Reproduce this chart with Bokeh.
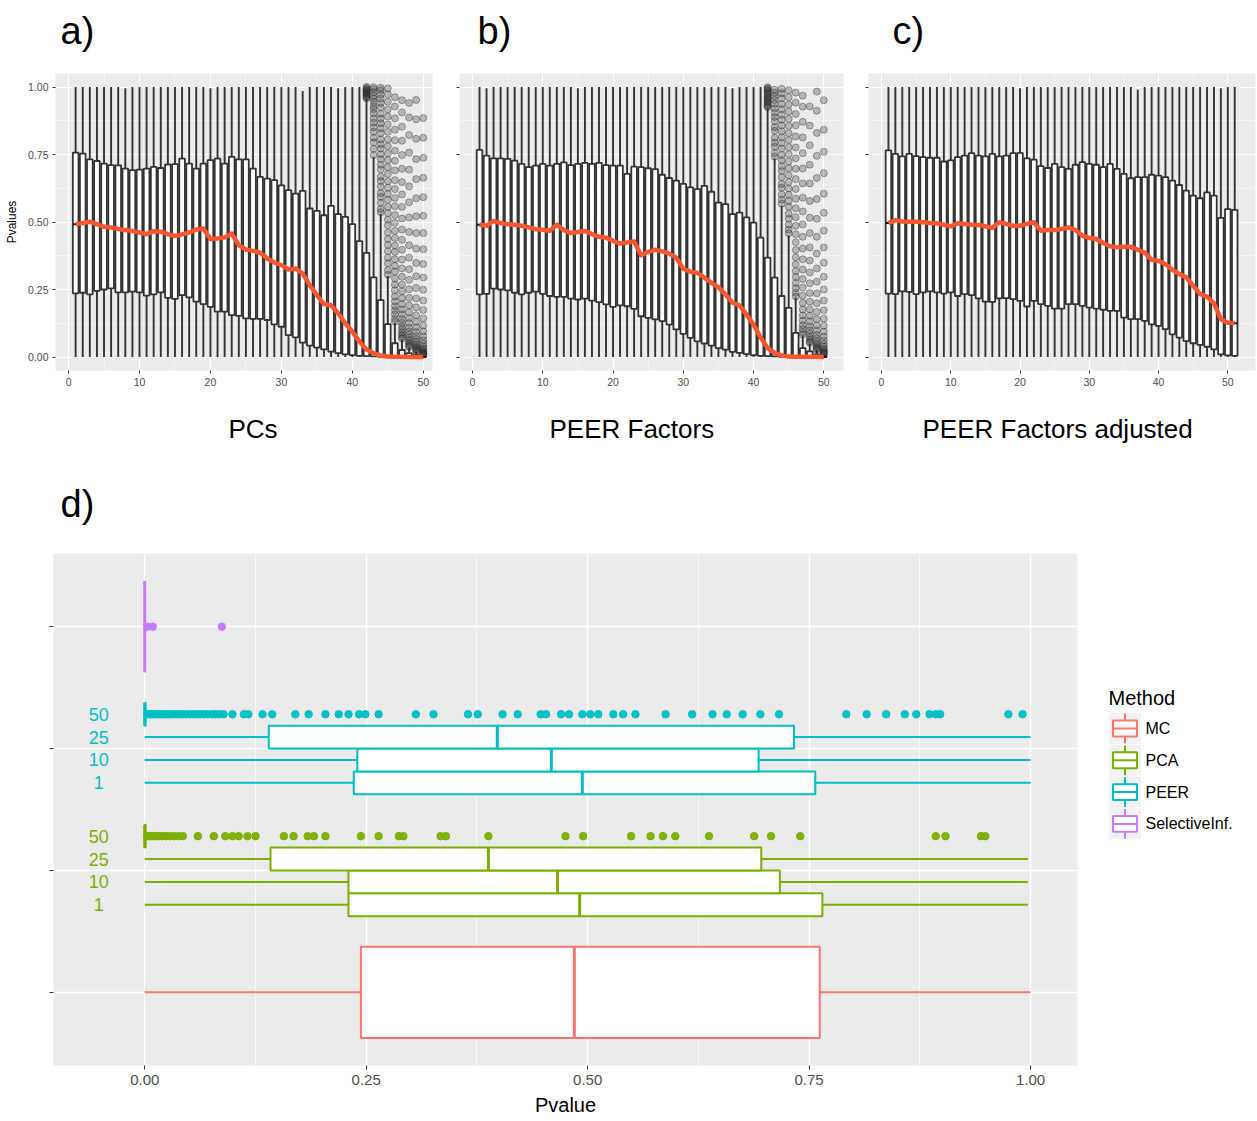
from bokeh.plotting import figure
from bokeh.layouts import row, column
from bokeh.models import Range1d, FixedTicker, NumeralTickFormatter, CustomJSTickFormatter
from bokeh.embed import file_html
from bokeh.resources import INLINE
from bokeh.core.properties import value

# ---------------------------------------------------------------------------
# Panels a-c: p-value distributions per number of hidden factors
# ---------------------------------------------------------------------------
pcs_q1 = [0.236, 0.238, 0.232, 0.245, 0.250, 0.254, 0.239, 0.239, 0.242, 0.239,
          0.227, 0.232, 0.239, 0.219, 0.215, 0.229, 0.221, 0.205, 0.196, 0.186,
          0.168, 0.168, 0.155, 0.152, 0.143, 0.141, 0.141, 0.137, 0.121, 0.112,
          0.081, 0.073, 0.053, 0.042, 0.035, 0.028, 0.020, 0.014, 0.010, 0.007,
          0.004, 0.003, 0.002, 0.001, 0.001, 0.000, 0.000, 0.000, 0.000, 0.000]
pcs_med = [0.492, 0.496, 0.501, 0.492, 0.482, 0.480, 0.474, 0.470, 0.467, 0.461,
           0.455, 0.466, 0.464, 0.455, 0.448, 0.454, 0.461, 0.472, 0.476, 0.437,
           0.439, 0.443, 0.457, 0.414, 0.398, 0.393, 0.386, 0.365, 0.350, 0.340,
           0.324, 0.328, 0.309, 0.266, 0.229, 0.196, 0.192, 0.162, 0.125, 0.094,
           0.057, 0.028, 0.014, 0.005, 0.002, 0.001, 0.001, 0.000, 0.000, 0.000]
pcs_q3 = [0.757, 0.753, 0.732, 0.726, 0.716, 0.711, 0.710, 0.698, 0.692, 0.694,
          0.698, 0.704, 0.700, 0.713, 0.714, 0.735, 0.716, 0.698, 0.716, 0.729,
          0.735, 0.716, 0.741, 0.732, 0.732, 0.698, 0.667, 0.661, 0.655, 0.636,
          0.618, 0.605, 0.615, 0.550, 0.541, 0.525, 0.560, 0.529, 0.519, 0.492,
          0.429, 0.386, 0.295, 0.211, 0.122, 0.051, 0.026, 0.014, 0.008, 0.003]
pcs_hi = [1.000, 1.000, 1.000, 1.000, 1.000, 1.000, 1.000, 0.995, 1.000, 1.000,
          1.000, 1.000, 1.000, 1.000, 1.000, 1.000, 1.000, 1.000, 1.000, 0.995,
          1.000, 1.000, 1.000, 1.000, 1.000, 1.000, 1.000, 1.000, 1.000, 1.000,
          1.000, 1.000, 0.985, 1.000, 1.000, 1.000, 1.000, 0.995, 1.000, 1.000,
          1.000, 0.955, 0.740, 0.530, 0.300, 0.126, 0.065, 0.035, 0.020, 0.008]
pcs_out = {
    42: [0.958, 0.962, 0.966, 0.971, 0.975, 0.979, 0.984, 0.988, 0.991, 0.996, 1.000],
    43: [0.748, 0.771, 0.795, 0.812, 0.834, 0.851, 0.868, 0.884, 0.902, 0.918,
         0.929, 0.944, 0.957, 0.968, 0.981, 0.992, 0.999],
    44: [0.536, 0.548, 0.571, 0.593, 0.607, 0.631, 0.652, 0.668, 0.694, 0.712,
         0.733, 0.751, 0.772, 0.788, 0.806, 0.829, 0.847, 0.866, 0.883, 0.901,
         0.924, 0.941, 0.957, 0.972, 0.988, 0.997],
    45: [0.305, 0.322, 0.347, 0.368, 0.392, 0.415, 0.437, 0.461, 0.488, 0.509,
         0.533, 0.556, 0.582, 0.604, 0.627, 0.651, 0.678, 0.703, 0.729, 0.754,
         0.781, 0.806, 0.834, 0.862, 0.891, 0.917, 0.945, 0.973, 0.995],
    46: [0.131, 0.142, 0.158, 0.173, 0.188, 0.206, 0.224, 0.247, 0.268, 0.291,
         0.316, 0.338, 0.362, 0.389, 0.413, 0.441, 0.468, 0.497, 0.526, 0.558,
         0.589, 0.622, 0.655, 0.691, 0.727, 0.764, 0.803, 0.842, 0.884, 0.928, 0.962],
    47: [0.068, 0.074, 0.083, 0.091, 0.102, 0.113, 0.127, 0.141, 0.158, 0.176,
         0.196, 0.218, 0.243, 0.268, 0.297, 0.328, 0.361, 0.397, 0.434, 0.472,
         0.513, 0.556, 0.602, 0.648, 0.697, 0.748, 0.801, 0.853, 0.906, 0.951],
    48: [0.037, 0.042, 0.048, 0.055, 0.063, 0.072, 0.083, 0.095, 0.109, 0.126,
         0.144, 0.166, 0.191, 0.219, 0.251, 0.286, 0.325, 0.368, 0.414, 0.463,
         0.517, 0.573, 0.632, 0.694, 0.757, 0.822, 0.887, 0.941],
    49: [0.021, 0.025, 0.029, 0.034, 0.040, 0.047, 0.056, 0.066, 0.078, 0.093,
         0.110, 0.131, 0.155, 0.184, 0.217, 0.256, 0.299, 0.348, 0.401, 0.459,
         0.521, 0.588, 0.659, 0.733, 0.808, 0.881, 0.952],
    50: [0.009, 0.011, 0.014, 0.017, 0.021, 0.026, 0.032, 0.040, 0.050, 0.062,
         0.077, 0.095, 0.117, 0.143, 0.174, 0.209, 0.249, 0.294, 0.344, 0.399,
         0.459, 0.523, 0.592, 0.664, 0.738, 0.812, 0.885],
}

peer_q1 = [0.232, 0.234, 0.253, 0.250, 0.247, 0.238, 0.232, 0.238, 0.242, 0.234,
           0.226, 0.223, 0.223, 0.216, 0.213, 0.216, 0.209, 0.203, 0.195, 0.186,
           0.191, 0.188, 0.178, 0.151, 0.145, 0.139, 0.133, 0.120, 0.102, 0.086,
           0.071, 0.058, 0.050, 0.042, 0.033, 0.027, 0.019, 0.015, 0.011, 0.007,
           0.004, 0.003, 0.002, 0.001, 0.001, 0.000, 0.000, 0.000, 0.000, 0.000]
peer_med = [0.490, 0.486, 0.504, 0.496, 0.492, 0.490, 0.486, 0.480, 0.473, 0.471,
            0.467, 0.490, 0.470, 0.459, 0.463, 0.467, 0.455, 0.445, 0.442, 0.430,
            0.420, 0.424, 0.428, 0.377, 0.389, 0.397, 0.391, 0.383, 0.368, 0.327,
            0.316, 0.312, 0.294, 0.275, 0.259, 0.232, 0.201, 0.191, 0.157, 0.120,
            0.073, 0.033, 0.015, 0.006, 0.002, 0.001, 0.001, 0.001, 0.001, 0.000]
peer_q3 = [0.767, 0.746, 0.736, 0.736, 0.734, 0.727, 0.715, 0.703, 0.709, 0.715,
           0.709, 0.715, 0.721, 0.711, 0.715, 0.719, 0.715, 0.719, 0.711, 0.709,
           0.709, 0.678, 0.705, 0.703, 0.699, 0.696, 0.675, 0.663, 0.653, 0.641,
           0.628, 0.622, 0.634, 0.612, 0.572, 0.566, 0.529, 0.535, 0.517, 0.498,
           0.442, 0.368, 0.294, 0.226, 0.182, 0.089, 0.033, 0.021, 0.010, 0.004]
peer_hi = [1.000, 0.995, 1.000, 1.000, 1.000, 1.000, 1.000, 1.000, 1.000, 1.000,
           1.000, 1.000, 1.000, 1.000, 0.995, 1.000, 1.000, 1.000, 1.000, 1.000,
           1.000, 1.000, 1.000, 1.000, 1.000, 1.000, 1.000, 1.000, 1.000, 1.000,
           1.000, 1.000, 1.000, 1.000, 1.000, 1.000, 0.995, 1.000, 1.000, 1.000,
           1.000, 0.920, 0.735, 0.560, 0.450, 0.220, 0.080, 0.050, 0.025, 0.010]
peer_out = {
    42: [0.925, 0.930, 0.934, 0.941, 0.946, 0.953, 0.957, 0.961, 0.968, 0.974,
         0.980, 0.986, 0.991, 0.995, 0.999],
    43: [0.742, 0.756, 0.779, 0.794, 0.812, 0.838, 0.851, 0.873, 0.889, 0.905,
         0.921, 0.938, 0.952, 0.966, 0.979, 0.990],
    44: [0.568, 0.583, 0.602, 0.627, 0.641, 0.666, 0.689, 0.707, 0.729, 0.748,
         0.772, 0.793, 0.814, 0.836, 0.858, 0.879, 0.897, 0.918, 0.937, 0.958, 0.976, 0.993],
    45: [0.458, 0.472, 0.490, 0.512, 0.531, 0.556, 0.578, 0.601, 0.624, 0.648,
         0.673, 0.699, 0.724, 0.751, 0.777, 0.803, 0.829, 0.856, 0.882, 0.909,
         0.935, 0.962, 0.988],
    46: [0.224, 0.238, 0.255, 0.274, 0.296, 0.318, 0.343, 0.369, 0.396, 0.425,
         0.455, 0.486, 0.518, 0.551, 0.586, 0.622, 0.659, 0.697, 0.736, 0.776,
         0.817, 0.858, 0.900, 0.942, 0.979],
    47: [0.083, 0.092, 0.104, 0.118, 0.135, 0.154, 0.176, 0.200, 0.227, 0.257,
         0.289, 0.324, 0.362, 0.402, 0.445, 0.491, 0.539, 0.590, 0.643, 0.698,
         0.755, 0.813, 0.871, 0.927, 0.968],
    48: [0.052, 0.058, 0.066, 0.075, 0.086, 0.099, 0.114, 0.132, 0.153, 0.177,
         0.205, 0.237, 0.273, 0.313, 0.357, 0.406, 0.459, 0.516, 0.578, 0.643,
         0.712, 0.784, 0.857, 0.928],
    49: [0.027, 0.031, 0.036, 0.042, 0.049, 0.058, 0.069, 0.082, 0.098, 0.117,
         0.140, 0.167, 0.199, 0.236, 0.279, 0.328, 0.383, 0.445, 0.512, 0.585,
         0.663, 0.745, 0.830, 0.912, 0.983],
    50: [0.011, 0.013, 0.016, 0.020, 0.025, 0.031, 0.039, 0.049, 0.061, 0.076,
         0.094, 0.116, 0.142, 0.173, 0.209, 0.250, 0.297, 0.349, 0.406, 0.468,
         0.534, 0.605, 0.681, 0.760, 0.842, 0.951],
}

adj_q1 = [0.235, 0.233, 0.243, 0.241, 0.233, 0.239, 0.243, 0.239, 0.235, 0.239,
          0.226, 0.233, 0.229, 0.217, 0.205, 0.204, 0.217, 0.218, 0.214, 0.208,
          0.187, 0.208, 0.196, 0.189, 0.179, 0.179, 0.196, 0.196, 0.189, 0.183,
          0.179, 0.175, 0.171, 0.171, 0.146, 0.140, 0.140, 0.134, 0.121, 0.115,
          0.103, 0.084, 0.072, 0.059, 0.051, 0.045, 0.038, 0.028, 0.010, 0.006, 0.004]
adj_med = [0.496, 0.507, 0.502, 0.501, 0.501, 0.499, 0.496, 0.495, 0.490, 0.484,
           0.495, 0.493, 0.490, 0.489, 0.484, 0.478, 0.499, 0.493, 0.486, 0.486,
           0.493, 0.499, 0.468, 0.470, 0.470, 0.474, 0.480, 0.470, 0.449, 0.441,
           0.437, 0.422, 0.410, 0.406, 0.408, 0.408, 0.397, 0.387, 0.360, 0.356,
           0.344, 0.323, 0.307, 0.295, 0.264, 0.233, 0.224, 0.199, 0.140, 0.127, 0.125]
adj_q3 = [0.765, 0.752, 0.743, 0.752, 0.744, 0.740, 0.738, 0.738, 0.724, 0.728,
          0.740, 0.746, 0.755, 0.746, 0.743, 0.752, 0.743, 0.746, 0.755, 0.756,
          0.736, 0.731, 0.707, 0.700, 0.715, 0.703, 0.697, 0.712, 0.722, 0.715,
          0.712, 0.703, 0.715, 0.697, 0.678, 0.662, 0.666, 0.666, 0.675, 0.672,
          0.666, 0.653, 0.637, 0.616, 0.598, 0.588, 0.610, 0.598, 0.515, 0.548, 0.545]
adj_hi = [1.000, 1.000, 1.000, 1.000, 1.000, 1.000, 1.000, 1.000, 1.000, 1.000,
          1.000, 1.000, 1.000, 1.000, 1.000, 1.000, 1.000, 1.000, 1.000, 0.995,
          1.000, 1.000, 1.000, 1.000, 1.000, 1.000, 1.000, 1.000, 1.000, 1.000,
          1.000, 1.000, 1.000, 1.000, 1.000, 1.000, 0.990, 1.000, 1.000, 1.000,
          1.000, 1.000, 1.000, 1.000, 1.000, 1.000, 1.000, 1.000, 0.995, 1.000, 1.000]
adj_out = {}

x_ticks_top = [0, 10, 20, 30, 40, 50]
x_minor_top = [5, 15, 25, 35, 45]
p_ticks = [0.0, 0.25, 0.5, 0.75, 1.0]
p_minor = [0.125, 0.375, 0.625, 0.875]

panel_letters = ["a)", "b)", "c)", "d)"]
panel_titles = ["PCs", "PEER Factors", "PEER Factors adjusted"]

# ---------------------------------------------------------------------------
# Panel d: p-value distributions per method and number of factors
# ---------------------------------------------------------------------------
methods = ["MC", "PCA", "PEER", "SelectiveInf."]
method_colors = ["#F8766D", "#7CAE00", "#00BFC4", "#C77CFF"]
factor_labels = ["1", "10", "25", "50"]

mc_q1, mc_med, mc_q3, mc_hi = 0.244, 0.485, 0.762, 1.000

pca_q1 = [0.230, 0.230, 0.142, 0.000]
pca_med = [0.491, 0.466, 0.388, 0.000]
pca_q3 = [0.765, 0.717, 0.696, 0.001]
pca_hi = [0.997, 0.997, 0.997, 0.002]
pca50_out = [0.003, 0.005, 0.007, 0.010, 0.013, 0.016, 0.020, 0.024, 0.028, 0.033,
             0.038, 0.043, 0.060, 0.078, 0.091, 0.099, 0.106, 0.116, 0.125, 0.157,
             0.168, 0.184, 0.191, 0.204, 0.244, 0.264, 0.287, 0.292, 0.334, 0.340,
             0.388, 0.475, 0.495, 0.549, 0.571, 0.585, 0.599, 0.637, 0.688, 0.707,
             0.740, 0.893, 0.904, 0.944, 0.949]

peer_d_q1 = [0.236, 0.240, 0.140, 0.000]
peer_d_med = [0.494, 0.459, 0.398, 0.000]
peer_d_q3 = [0.757, 0.693, 0.733, 0.001]
peer_d_hi = [1.000, 1.000, 1.000, 0.002]
peer50_out = [0.003, 0.005, 0.007, 0.009, 0.012, 0.014, 0.017, 0.020, 0.023, 0.026,
              0.029, 0.032, 0.036, 0.039, 0.043, 0.047, 0.051, 0.055, 0.059, 0.063,
              0.067, 0.071, 0.076, 0.080, 0.084, 0.089, 0.099, 0.112, 0.117, 0.133,
              0.144, 0.170, 0.185, 0.204, 0.219, 0.230, 0.242, 0.249, 0.264, 0.306,
              0.326, 0.365, 0.376, 0.404, 0.421, 0.447, 0.453, 0.470, 0.479, 0.494,
              0.503, 0.512, 0.529, 0.540, 0.554, 0.588, 0.618, 0.641, 0.657, 0.675,
              0.695, 0.716, 0.792, 0.815, 0.837, 0.858, 0.871, 0.886, 0.893, 0.898,
              0.975, 0.991]

si_q1, si_med, si_q3, si_hi = 0.000, 0.000, 0.000, 0.000
si_out = [0.003, 0.009, 0.087]

p_ticks_d = [0.0, 0.25, 0.5, 0.75, 1.0]
p_minor_d = [0.125, 0.375, 0.625, 0.875]

# ---------------------------------------------------------------------------
FONT = "Liberation Sans"
PANEL_BG = "#EBEBEB"
TICK_TEXT = "#4D4D4D"
TICK_LINE = "#333333"
BOX_LINE = "#333333"
MEDIAN_RED = "#FA5531"
PAGE_W = 1257

HEAD_H = 73          # strip holding the letters a) b) c)
TOP_FRAME_H = 297    # plotting area of panels a-c
TOP_H = TOP_FRAME_H + 20
MID_H = 163          # strip holding the panel captions and d)
D_FRAME_H = 515
D_H = D_FRAME_H + 50


def text_strip(height, items):
    """A blank strip whose coordinates are pixels from its top-left corner."""
    s = figure(width=PAGE_W, height=height, x_range=Range1d(0, PAGE_W),
               y_range=Range1d(height, 0), output_backend="svg",
               toolbar_location=None, min_border=0)
    s.axis.visible = False
    s.grid.visible = False
    s.outline_line_color = None
    s.background_fill_color = "white"
    s.border_fill_color = "white"
    for txt, x, y, size in items:
        s.text(x=[x], y=[y], text=[txt], text_font=value(FONT), text_font_size=size,
               text_color="black", text_align="left", text_baseline="middle")
    return s


def ggplot_axes(p):
    p.background_fill_color = PANEL_BG
    p.border_fill_color = "white"
    p.outline_line_color = None
    p.grid.grid_line_color = "white"
    p.grid.minor_grid_line_color = "white"
    p.axis.axis_line_color = None
    p.axis.major_tick_line_color = TICK_LINE
    p.axis.major_tick_in = 0
    p.axis.minor_tick_line_color = None
    p.axis.major_label_text_color = TICK_TEXT
    p.axis.major_label_text_font = FONT
    p.axis.axis_label_text_font = FONT
    p.axis.axis_label_text_font_style = "normal"
    p.axis.axis_label_text_color = "black"


def factor_panel(q1, med, q3, hi, outliers, width, left, right, x_start, x_end, y_labels):
    p = figure(width=width, height=TOP_H, x_range=Range1d(x_start, x_end),
               y_range=Range1d(-0.05, 1.05), output_backend="svg",
               toolbar_location=None, min_border_left=left, min_border_right=right,
               min_border_top=0, min_border_bottom=TOP_H - TOP_FRAME_H)
    ggplot_axes(p)
    p.grid.grid_line_width = 1.1
    p.grid.minor_grid_line_width = 0.5
    p.xaxis.ticker = FixedTicker(ticks=x_ticks_top, minor_ticks=x_minor_top)
    p.yaxis.ticker = FixedTicker(ticks=p_ticks, minor_ticks=p_minor)
    p.axis.major_tick_out = 3
    p.axis.major_label_text_font_size = "10.5px"
    p.axis.major_label_standoff = 3
    if y_labels:
        p.yaxis.formatter = NumeralTickFormatter(format="0.00")
        p.yaxis.axis_label = "Pvalues"
        p.yaxis.axis_label_text_font_size = "12px"
        p.yaxis.axis_label_standoff = 6
    else:
        p.yaxis.formatter = CustomJSTickFormatter(code="return ''")

    n = len(med)
    xs = list(range(1, n + 1))
    lows = [0.0] * n
    p.segment(xs, q3, xs, hi, line_color=BOX_LINE, line_width=1.9)
    p.segment(xs, lows, xs, q1, line_color=BOX_LINE, line_width=1.9)
    p.vbar(x=xs, width=0.8, bottom=q1, top=q3, fill_color="white",
           line_color=BOX_LINE, line_width=1.8)

    ox, oy = [], []
    for k, vals in outliers.items():
        ox.extend([k] * len(vals))
        oy.extend(vals)
    if ox:
        p.scatter(ox, oy, size=7, fill_color="#2b2b2b", fill_alpha=0.28,
                  line_color="#2b2b2b", line_alpha=0.4, line_width=1)

    half = 0.4
    p.segment([x - half for x in xs], med, [x + half for x in xs], med,
              line_color="#1a1a1a", line_width=2)
    p.line(xs, med, line_color=MEDIAN_RED, line_width=4.5, line_join="round")
    return p


head = text_strip(HEAD_H, [(panel_letters[0], 60, 30, "38px"),
                           (panel_letters[1], 477, 30, "38px"),
                           (panel_letters[2], 892, 30, "38px")])

fa = factor_panel(pcs_q1, pcs_med, pcs_q3, pcs_hi, pcs_out, 440, 55, 8, -1.84, 51.3, True)
fb = factor_panel(peer_q1, peer_med, peer_q3, peer_hi, peer_out, 410, 19, 7, -1.85, 52.8, False)
fc = factor_panel(adj_q1, adj_med, adj_q3, adj_hi, adj_out, 407, 18, 2, -1.88, 54.0, False)

mid = text_strip(MID_H, [(panel_titles[0], 228, 38, "26px"),
                         (panel_titles[1], 549, 38, "26px"),
                         (panel_titles[2], 922, 38, "26px"),
                         (panel_letters[3], 60, 113, "38px")])

# --- panel d ---------------------------------------------------------------
fd = figure(width=1080, height=D_H, x_range=Range1d(-0.103, 1.053),
            y_range=Range1d(0.4, 4.6), output_backend="svg", toolbar_location=None,
            min_border_left=53, min_border_right=3, min_border_top=0,
            min_border_bottom=D_H - D_FRAME_H)
ggplot_axes(fd)
fd.grid.grid_line_width = 1.4
fd.xgrid.minor_grid_line_width = 0.7
fd.ygrid.minor_grid_line_color = None
fd.xaxis.ticker = FixedTicker(ticks=p_ticks_d, minor_ticks=p_minor_d)
fd.yaxis.ticker = FixedTicker(ticks=[1, 2, 3, 4])
fd.xaxis.formatter = NumeralTickFormatter(format="0.00")
fd.yaxis.formatter = CustomJSTickFormatter(code="return ''")
fd.axis.major_tick_out = 4
fd.xaxis.major_label_text_font_size = "15px"
fd.xaxis.major_label_standoff = 5
fd.xaxis.axis_label = "Pvalue"
fd.xaxis.axis_label_text_font_size = "20px"
fd.xaxis.axis_label_standoff = 6

LW = 2.0
full_h = 0.75
dodge = full_h / len(factor_labels)
offsets = [(-1.5 + i) * dodge for i in range(len(factor_labels))]


def hbox(p, y, h, q1, med, q3, lo, hi, color):
    p.segment([lo], [y], [q1], [y], line_color=color, line_width=LW)
    p.segment([q3], [y], [hi], [y], line_color=color, line_width=LW)
    p.hbar(y=[y], height=h, left=[q1], right=[q3], fill_color="white",
           line_color=color, line_width=LW)
    p.segment([med], [y - h / 2], [med], [y + h / 2], line_color=color, line_width=3)


# MC
hbox(fd, 1, full_h, mc_q1, mc_med, mc_q3, 0.0, mc_hi, method_colors[0])

# PCA and PEER, dodged by number of factors
for cat, color, q1s, meds, q3s, his, out50 in [
        (2, method_colors[1], pca_q1, pca_med, pca_q3, pca_hi, pca50_out),
        (3, method_colors[2], peer_d_q1, peer_d_med, peer_d_q3, peer_d_hi, peer50_out)]:
    for i, lab in enumerate(factor_labels):
        y = cat + offsets[i]
        hbox(fd, y, dodge, q1s[i], meds[i], q3s[i], 0.0, his[i], color)
    y50 = cat + offsets[3]
    fd.scatter(out50, [y50] * len(out50), size=7.5, fill_color=color,
               line_color=color, fill_alpha=0.95)
    fd.text(x=[-0.052] * len(factor_labels), y=[cat + o for o in offsets],
            text=factor_labels, text_color=color, text_align="center",
            text_baseline="middle", text_font_size="18px", text_font=value(FONT))

# SelectiveInf.
hbox(fd, 4, full_h, si_q1, si_med, si_q3, 0.0, si_hi, method_colors[3])
fd.scatter(si_out, [4] * len(si_out), size=7.5, fill_color=method_colors[3],
           line_color=method_colors[3])

# --- legend for panel d ----------------------------------------------------
# Coordinates are pixels from the top-left of the legend frame, which lines up
# with the plotting area of panel d.
LEG_W = PAGE_W - 1080
fl = figure(width=LEG_W, height=D_H, x_range=Range1d(0, LEG_W),
            y_range=Range1d(D_FRAME_H, 0), output_backend="svg",
            toolbar_location=None, min_border=0, min_border_top=0,
            min_border_bottom=D_H - D_FRAME_H)
fl.axis.visible = False
fl.grid.visible = False
fl.outline_line_color = None
fl.background_fill_color = "white"
fl.border_fill_color = "white"

key_x0, key_w, key_h = 28, 33, 32
key_y0 = 160
fl.text(x=[key_x0], y=[key_y0 - 15], text=["Method"], text_font_size="20px",
        text_font=value(FONT), text_baseline="middle", text_color="black")
for i, (name, color) in enumerate(zip(methods, method_colors)):
    cy = key_y0 + key_h / 2 + i * key_h
    cx = key_x0 + key_w / 2
    fl.rect(x=[cx], y=[cy], width=key_w - 1, height=key_h - 1, fill_color="#F2F2F2",
            line_color=None)
    fl.segment([cx], [cy - key_h / 2 + 1], [cx], [cy + key_h / 2 - 1],
               line_color=color, line_width=2)
    fl.rect(x=[cx], y=[cy], width=24, height=16, fill_color="white",
            line_color=color, line_width=2)
    fl.segment([cx - 12], [cy], [cx + 12], [cy], line_color=color, line_width=2)
    fl.text(x=[key_x0 + key_w + 4], y=[cy], text=[name], text_font_size="16px",
            text_font=value(FONT), text_baseline="middle", text_color="black")

layout = column(head, row(fa, fb, fc), mid, row(fd, fl))
open("out.html", "w").write(file_html(layout, INLINE))
